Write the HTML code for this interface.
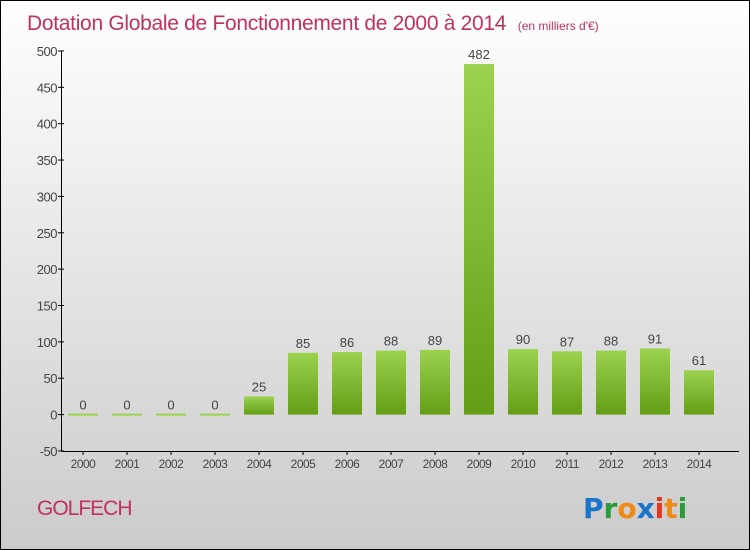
<!DOCTYPE html>
<html><head><meta charset="utf-8"><style>
body{margin:0}
#c{width:748px;height:548px;border:1px solid #000;position:relative;background:linear-gradient(#fff,#cbcbcb);font-family:"Liberation Sans",sans-serif;overflow:hidden}
</style></head><body>
<div id="c">
<svg width="748" height="548" id="s" style="position:absolute;left:0;top:0">
<defs><linearGradient id="g" x1="0" y1="0" x2="0" y2="1"><stop offset="0" stop-color="#9bd24f"/><stop offset="1" stop-color="#639e16"/></linearGradient></defs>
<text x="26" y="29" font-size="21" fill="#c0325e" letter-spacing="-0.3">Dotation Globale de Fonctionnement de 2000 à 2014 <tspan font-size="12" dx="6" letter-spacing="0">(en milliers d'€)</tspan></text>
<text x="36" y="514" font-size="21" fill="#c0325e" letter-spacing="-1">GOLFECH</text>
<g font-size="28" font-family="'DejaVu Sans',sans-serif" font-weight="bold">
<text x="582" y="517"><tspan fill="#1a74c8">P</tspan><tspan fill="#2a9a3a">r</tspan><tspan fill="#f08a12">o</tspan><tspan fill="#1a74c8">x</tspan><tspan fill="#e8341c">i</tspan><tspan fill="#f08a12">t</tspan><tspan fill="#2a9a3a">i</tspan></text></g>
<g id="ax"></g><g id="bars"></g>
</svg>
</div>
<script>
const categories=["2000","2001","2002","2003","2004","2005","2006","2007","2008","2009","2010","2011","2012","2013","2014"];
const values=[0,0,0,0,25,85,86,88,89,482,90,87,88,91,61];
const yTicks=[-50,0,50,100,150,200,250,300,350,400,450,500];
const NS="http://www.w3.org/2000/svg";
const y=v=>413.6-v*0.7273;
const x=i=>82+i*44;
function mk(t,a,p,txt){const e=document.createElementNS(NS,t);for(const k in a)e.setAttribute(k,a[k]);if(txt!==undefined)e.textContent=txt;p.appendChild(e);return e;}
const ax=document.getElementById('ax'),bg=document.getElementById('bars');
const yl=mk('line',{x1:60.5,y1:y(500),x2:60.5,y2:y(-50),stroke:'#000'},ax);


const xl=mk('line',{x1:60.5,y1:y(-50)+0.5,x2:738,y2:y(-50)+0.5,stroke:'#000'},ax);


yTicks.forEach(v=>{
mk('line',{x1:57,x2:63,y1:y(v),y2:y(v),stroke:'#000'},ax);
const t=mk('text',{x:56,y:y(v)+5,'text-anchor':'end','font-size':13,fill:'#444','letter-spacing':'-0.5'},ax,v);


});
categories.forEach((c,i)=>{
mk('line',{x1:x(i),x2:x(i),y1:y(-50),y2:y(-50)+4,stroke:'#000'},ax);
const t=mk('text',{x:x(i),y:y(-50)+17,'text-anchor':'middle','font-size':12,fill:'#444','letter-spacing':'-0.5'},ax,c);


const v=values[i];
const h=Math.max(2,v*0.7273);
const r=mk('rect',{x:x(i)-15,y:y(v)-(v===0?1:0),width:30,height:h,fill:v===0?'#9bd24f':'url(#g)'},bg);


const l=mk('text',{x:x(i),y:y(v)-5,'text-anchor':'middle','font-size':13,fill:'#444'},bg,v);


});
</script>
</body></html>
